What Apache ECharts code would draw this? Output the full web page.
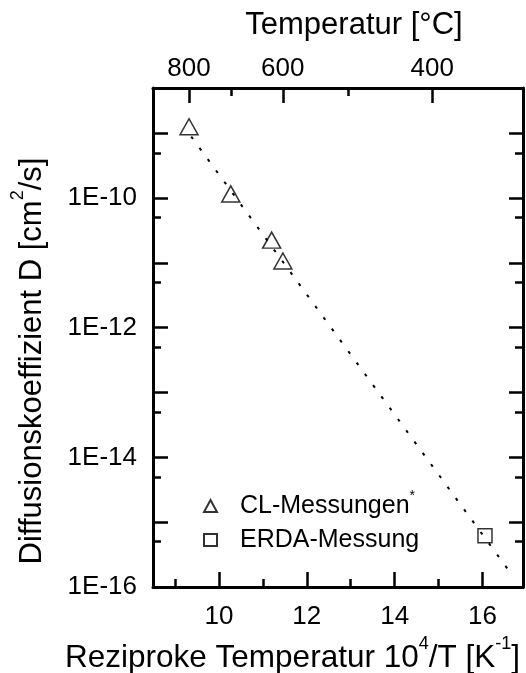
<!DOCTYPE html>
<html>
<head>
<meta charset="utf-8">
<script src="https://cdn.jsdelivr.net/npm/echarts@6/dist/echarts.min.js"></script>
<style>
html, body { margin: 0; padding: 0; background: #fff; }
#chart { width: 526px; height: 673px; }
</style>
</head>
<body>
<div id="chart"></div>
<script>
// CL measurements (triangles): reciprocal temperature 10^4/T [1/K] and D [cm^2/s]
const clX = [9.32, 10.27, 11.20, 11.456];
const clD = [1.26e-9, 1.16e-10, 2.25e-11, 1.07e-11];
// ERDA measurement (square)
const erdaX = [16.055];
const erdaD = [6.2e-16];
// Arrhenius fit, dotted line between its two end points
const fitX = [9.37, 16.70];
const fitD = [8.9e-10, 1.44e-16];

// bottom axis ticks (10^4/T)
const xMajorTicks = [10, 12, 14, 16];
const xMinorTicks = [9, 11, 13, 15];
// top axis ticks (temperature in °C)
const tempLabeled = [800, 600, 400];
const tempMinor = [700, 500];
// left / right axis ticks (D)
const yMajorTicks = [1e-16, 1e-15, 1e-14, 1e-13, 1e-12, 1e-11, 1e-10, 1e-9];
const yMinorTicks = [5e-16, 5e-15, 5e-14, 5e-13, 5e-12, 5e-11, 5e-10];
const yLabeled = [1e-16, 1e-14, 1e-12, 1e-10];

const FONT = 'Liberation Sans, Arial, Helvetica, sans-serif';
const X_MIN = 8.5, X_MAX = 16.92;
const Y_MIN = 1e-16, Y_MAX = 5e-9;

// °C -> 10^4 / T[K]
const toRecip = c => 1e4 / (c + 273.15);

function tickAxis(extra) {
  return Object.assign({
    axisLine: { show: false, onZero: false },
    axisLabel: { show: false },
    splitLine: { show: false }
  }, extra);
}

const chart = echarts.init(document.getElementById('chart'));

const option = {
  animation: false,
  backgroundColor: '#fff',
  grid: { left: 153, right: 3, top: 88, bottom: 86, containLabel: false, outerBoundsMode: 'none' },
  legend: {
    data: ['CL-Messungen', 'ERDA-Messung'],
    orient: 'vertical',
    left: 203,
    top: 489,
    padding: 0,
    itemGap: 0,
    itemWidth: 13,
    itemHeight: 12,
    selectedMode: false,
    formatter: name => name === 'CL-Messungen' ? '{n|CL-Messungen}{s|*}' : '{n|' + name + '}',
    textStyle: {
      color: '#000',
      fontFamily: FONT,
      fontSize: 25,
      lineHeight: 34,
      padding: [0, 0, 0, 18],
      rich: {
        n: { fontSize: 25, lineHeight: 34, fontFamily: FONT, color: '#000' },
        s: { fontSize: 14, lineHeight: 14, fontFamily: FONT, color: '#000', verticalAlign: 'top' }
      }
    }
  },
  xAxis: [
    {
      type: 'value', position: 'bottom', min: X_MIN, max: X_MAX,
      axisLine: { show: true, onZero: false, lineStyle: { color: '#000', width: 3 } },
      axisTick: { show: true, inside: true, length: 15, customValues: xMajorTicks,
                  lineStyle: { color: '#000', width: 2.5 } },
      axisLabel: { show: true, customValues: xMajorTicks, margin: 17,
                   color: '#000', fontSize: 26, fontFamily: FONT },
      splitLine: { show: false },
      name: 'Reziproke Temperatur 10{sup|4}/T [K{sup|-1}]',
      nameLocation: 'middle',
      nameGap: 45,
      nameTextStyle: {
        color: '#000', fontSize: 31.5, fontFamily: FONT, lineHeight: 46,
        padding: [0, 91, 0, 0],
        rich: { sup: { fontSize: 18, lineHeight: 18, fontFamily: FONT, color: '#000', verticalAlign: 'top' } }
      }
    },
    tickAxis({
      type: 'value', position: 'bottom', min: X_MIN, max: X_MAX,
      axisTick: { show: true, inside: true, length: 8, customValues: xMinorTicks,
                  lineStyle: { color: '#000', width: 2.5 } }
    }),
    {
      type: 'value', position: 'top', min: X_MIN, max: X_MAX,
      axisLine: { show: true, onZero: false, lineStyle: { color: '#000', width: 3 } },
      axisTick: { show: true, inside: true, length: 15, customValues: tempLabeled.map(toRecip),
                  lineStyle: { color: '#000', width: 2.5 } },
      axisLabel: { show: true, customValues: tempLabeled.map(toRecip), margin: 6,
                   color: '#000', fontSize: 26, fontFamily: FONT,
                   formatter: v => String(Math.round(1e4 / v - 273.15)) },
      splitLine: { show: false },
      name: 'Temperatur [°C]',
      nameLocation: 'middle',
      nameGap: 47,
      nameTextStyle: { color: '#000', fontSize: 31, fontFamily: FONT, padding: [0, 0, 0, 32] }
    },
    tickAxis({
      type: 'value', position: 'top', min: X_MIN, max: X_MAX,
      axisTick: { show: true, inside: true, length: 8, customValues: tempMinor.map(toRecip),
                  lineStyle: { color: '#000', width: 2.5 } }
    })
  ],
  yAxis: [
    {
      type: 'log', logBase: 10, position: 'left', min: Y_MIN, max: Y_MAX,
      axisLine: { show: true, onZero: false, lineStyle: { color: '#000', width: 3 } },
      axisTick: { show: true, inside: true, length: 15, customValues: yMajorTicks,
                  lineStyle: { color: '#000', width: 2.5 } },
      axisLabel: { show: true, customValues: yLabeled, margin: 16,
                   color: '#000', fontSize: 26, fontFamily: FONT,
                   formatter: v => '1E' + Math.round(Math.log10(v)) },
      splitLine: { show: false },
      name: 'Diffusionskoeffizient D [cm{sup|2}/s]',
      nameLocation: 'middle',
      nameRotate: 90,
      nameGap: 98,
      nameTextStyle: {
        color: '#000', fontSize: 31, fontFamily: FONT, lineHeight: 46,
        padding: [0, 47, 0, 0],
        rich: { sup: { fontSize: 18, lineHeight: 18, fontFamily: FONT, color: '#000', verticalAlign: 'top' } }
      }
    },
    tickAxis({
      type: 'log', logBase: 10, position: 'left', min: Y_MIN, max: Y_MAX,
      axisTick: { show: true, inside: true, length: 8, customValues: yMinorTicks,
                  lineStyle: { color: '#000', width: 2.5 } }
    }),
    {
      type: 'log', logBase: 10, position: 'right', min: Y_MIN, max: Y_MAX,
      axisLine: { show: true, onZero: false, lineStyle: { color: '#000', width: 3 } },
      axisTick: { show: true, inside: true, length: 14, customValues: yMajorTicks,
                  lineStyle: { color: '#000', width: 2.5 } },
      axisLabel: { show: false },
      splitLine: { show: false }
    },
    tickAxis({
      type: 'log', logBase: 10, position: 'right', min: Y_MIN, max: Y_MAX,
      axisTick: { show: true, inside: true, length: 8, customValues: yMinorTicks,
                  lineStyle: { color: '#000', width: 2.5 } }
    })
  ],
  series: [
    {
      name: 'Fit',
      type: 'line',
      xAxisIndex: 0, yAxisIndex: 0,
      data: fitX.map((x, i) => [x, fitD[i]]),
      showSymbol: false,
      silent: true,
      lineStyle: { color: '#000', width: 2, type: [3, 11], cap: 'butt' },
      z: 1
    },
    {
      name: 'CL-Messungen',
      type: 'scatter',
      xAxisIndex: 0, yAxisIndex: 0,
      data: clX.map((x, i) => [x, clD[i]]),
      symbol: 'triangle',
      symbolSize: [18, 16],
      itemStyle: { color: 'rgba(0,0,0,0)', borderColor: '#000', borderWidth: 1.5 },
      z: 3
    },
    {
      name: 'ERDA-Messung',
      type: 'scatter',
      xAxisIndex: 0, yAxisIndex: 0,
      data: erdaX.map((x, i) => [x, erdaD[i]]),
      symbol: 'rect',
      symbolSize: 14,
      itemStyle: { color: 'rgba(0,0,0,0)', borderColor: '#000', borderWidth: 1.5 },
      z: 3
    }
  ]
};

chart.setOption(option);
</script>
</body>
</html>
